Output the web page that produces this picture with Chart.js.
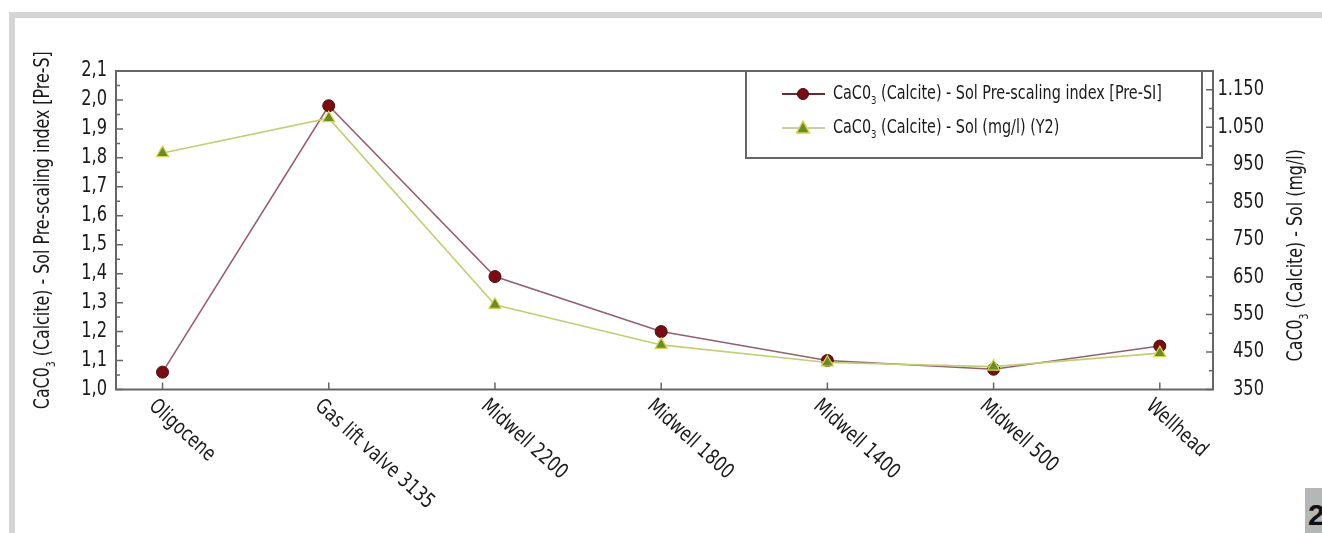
<!DOCTYPE html>
<html>
<head>
<meta charset="utf-8">
<title>CaCO3 (Calcite) - Sol</title>
<script src="https://cdn.jsdelivr.net/npm/chart.js@4.4.1/dist/chart.umd.min.js"></script>
<style>
  html, body { margin: 0; padding: 0; background: #fff; overflow: hidden; }
  #wrap { position: relative; width: 1322px; height: 533px; }
  #bandTop { position: absolute; left: 9px; top: 12px; width: 1313px; height: 6px; background: #d5d5d5; }
  #bandLeft { position: absolute; left: 9px; top: 12px; width: 6px; height: 521px; background: #d5d5d5; }
  #pageNo { position: absolute; left: 1305px; top: 488px; width: 30px; height: 45px; background: #b3b8b7;
            font: bold 30px "Liberation Sans", Arial, sans-serif; color: #111; padding-left: 3px; line-height: 54px; }
  #chart { position: absolute; left: 0; top: 0; }
</style>
</head>
<body>
<div id="wrap">
  <div id="bandTop"></div>
  <div id="bandLeft"></div>
  <div id="pageNo">2</div>
  <canvas id="chart" width="1322" height="533"></canvas>
</div>
<script>
// Chart data
const categories = ['Oligocene', 'Gas lift valve 3135', 'Midwell 2200', 'Midwell 1800', 'Midwell 1400', 'Midwell 500', 'Wellhead'];
const preScalingIndex = [1.06, 1.98, 1.39, 1.20, 1.10, 1.07, 1.15];
const solubilityMgL = [981, 1074, 576, 469, 422, 411, 447];
const leftTicks = [1.0, 1.1, 1.2, 1.3, 1.4, 1.5, 1.6, 1.7, 1.8, 1.9, 2.0, 2.1];
const rightTicks = [350, 450, 550, 650, 750, 850, 950, 1050, 1150];

const legendLabels = [
  [{ t: 'CaC0' }, { t: '3', sub: true }, { t: ' (Calcite) - Sol Pre-scaling index [Pre-SI]' }],
  [{ t: 'CaC0' }, { t: '3', sub: true }, { t: ' (Calcite) - Sol (mg/l) (Y2)' }],
];
const leftTitle = [{ t: 'CaC0' }, { t: '3', sub: true }, { t: ' (Calcite) - Sol Pre-scaling index [Pre-S]' }];
const rightTitle = [{ t: 'CaC0' }, { t: '3', sub: true }, { t: ' (Calcite) - Sol (mg/l)' }];

const FAMILY = '"Liberation Sans Narrow", "DejaVu Sans Condensed", "Liberation Sans", sans-serif';
const SQUEEZE = 0.86;
const TEXT = '#1a1a1a';
const FRAME = '#666';

const red = { line: '#94606f', fill: '#7a0c12', edge: '#4f0a0a' };
const green = { line: '#c3cf6e', fill: '#6e8a25', edge: '#d6d64a' };

const fmtLeft = v => v.toFixed(1).replace('.', ',');
const fmtRight = v => v >= 1000 ? Math.floor(v / 1000) + '.' + String(v % 1000).padStart(3, '0') : String(v);

// draw text with a subscript part, squeezed horizontally
function drawRich(ctx, parts, x, y, size, align) {
  ctx.save();
  ctx.translate(x, y);
  ctx.scale(SQUEEZE, 1);
  const big = size + 'px ' + FAMILY;
  const small = Math.round(size * 0.6) + 'px ' + FAMILY;
  let total = 0;
  parts.forEach(p => { ctx.font = p.sub ? small : big; total += ctx.measureText(p.t).width; });
  let cx = align === 'center' ? -total / 2 : align === 'right' ? -total : 0;
  ctx.textAlign = 'left';
  ctx.textBaseline = 'middle';
  ctx.fillStyle = TEXT;
  parts.forEach(p => {
    ctx.font = p.sub ? small : big;
    ctx.fillText(p.t, cx, p.sub ? size * 0.38 : 0);
    cx += ctx.measureText(p.t).width;
  });
  ctx.restore();
}

function marker(ctx, style, x, y) {
  ctx.save();
  if (style === 'circle') {
    ctx.beginPath();
    ctx.arc(x, y, 5.5, 0, Math.PI * 2);
    ctx.fillStyle = red.fill;
    ctx.strokeStyle = red.edge;
    ctx.lineWidth = 1;
    ctx.fill();
    ctx.stroke();
  } else {
    ctx.beginPath();
    ctx.moveTo(x, y - 7);
    ctx.lineTo(x + 6.5, y + 5);
    ctx.lineTo(x - 6.5, y + 5);
    ctx.closePath();
    ctx.fillStyle = green.fill;
    ctx.strokeStyle = green.edge;
    ctx.lineWidth = 1.5;
    ctx.fill();
    ctx.stroke();
  }
  ctx.restore();
}

// frame, inner ticks, tick labels, titles, rotated labels and legend
const decor = {
  id: 'decor',
  beforeDatasetsDraw(chart) {
    const ctx = chart.ctx;
    const a = chart.chartArea;
    const sx = chart.scales.x, sy = chart.scales.y, sy2 = chart.scales.y2;
    ctx.save();
    ctx.strokeStyle = FRAME;
    ctx.lineWidth = 1.5;
    ctx.beginPath();
    // left axis ticks (major + minor)
    leftTicks.forEach((v, i) => {
      const y = sy.getPixelForValue(v);
      ctx.moveTo(a.left, y); ctx.lineTo(a.left + 7, y);
      if (i < leftTicks.length - 1) {
        const ym = sy.getPixelForValue((v + leftTicks[i + 1]) / 2);
        ctx.moveTo(a.left, ym); ctx.lineTo(a.left + 4, ym);
      }
    });
    // right axis ticks
    rightTicks.forEach((v, i) => {
      const y = sy2.getPixelForValue(v);
      ctx.moveTo(a.right, y); ctx.lineTo(a.right - 7, y);
      const next = i < rightTicks.length - 1 ? rightTicks[i + 1] : v + 100;
      const ym = sy2.getPixelForValue((v + next) / 2);
      if (ym > a.top + 2) { ctx.moveTo(a.right, ym); ctx.lineTo(a.right - 4, ym); }
    });
    // category ticks
    categories.forEach((c, i) => {
      const x = sx.getPixelForValue(i);
      ctx.moveTo(x, a.bottom); ctx.lineTo(x, a.bottom - 7);
    });
    ctx.stroke();
    ctx.lineWidth = 2;
    ctx.strokeRect(a.left, a.top, a.right - a.left, a.bottom - a.top);
    ctx.restore();

    // tick labels
    leftTicks.forEach(v => drawRich(ctx, [{ t: fmtLeft(v) }], a.left - 9, sy.getPixelForValue(v), 21, 'right'));
    rightTicks.forEach(v => drawRich(ctx, [{ t: fmtRight(v) }], a.right + 51, sy2.getPixelForValue(v), 21, 'right'));

    // rotated category labels
    categories.forEach((c, i) => {
      const x = sx.getPixelForValue(i);
      ctx.save();
      ctx.translate(x - 11, a.bottom + 14);
      ctx.rotate(42 * Math.PI / 180);
      drawRich(ctx, [{ t: c }], 0, 0, 21, 'left');
      ctx.restore();
    });

    // axis titles
    ctx.save();
    ctx.translate(44, (a.top + a.bottom) / 2);
    ctx.rotate(-Math.PI / 2);
    drawRich(ctx, leftTitle, 0, 0, 20.5, 'center');
    ctx.restore();
    ctx.save();
    ctx.translate(1297, (a.top + a.bottom) / 2 + 25);
    ctx.rotate(-Math.PI / 2);
    drawRich(ctx, rightTitle, 0, 0, 20.5, 'center');
    ctx.restore();
  },
  afterDraw(chart) {
    const ctx = chart.ctx;
    const a = chart.chartArea;
    const w = 456, h = 87;
    const lx = a.right - 11 - w, ly = a.top;
    ctx.save();
    ctx.fillStyle = '#fff';
    ctx.fillRect(lx, ly, w, h);
    ctx.strokeStyle = FRAME;
    ctx.lineWidth = 2;
    ctx.strokeRect(lx, ly, w, h);
    const rows = [
      { y: ly + 23, line: '#6b2a33', style: 'circle' },
      { y: ly + 57, line: '#c8d0a0', style: 'triangle' },
    ];
    rows.forEach((r, i) => {
      ctx.strokeStyle = r.line;
      ctx.lineWidth = 2;
      ctx.beginPath();
      ctx.moveTo(lx + 36, r.y); ctx.lineTo(lx + 79, r.y);
      ctx.stroke();
      marker(ctx, r.style, lx + 57, r.y);
      drawRich(ctx, legendLabels[i], lx + 87, r.y, 18.6, 'left');
    });
    ctx.restore();
  }
};

const pointsOf = values => values.map((v, i) => ({ x: i, y: v }));

new Chart(document.getElementById('chart').getContext('2d'), {
  type: 'line',
  data: {
    datasets: [
      {
        label: 'CaC03 (Calcite) - Sol (mg/l) (Y2)',
        data: pointsOf(solubilityMgL),
        yAxisID: 'y2',
        order: 0,
        borderColor: green.line,
        borderWidth: 1.6,
        pointStyle: 'triangle',
        pointRadius: 7,
        pointBackgroundColor: green.fill,
        pointBorderColor: green.edge,
        pointBorderWidth: 1.2,
        tension: 0,
      },
      {
        label: 'CaC03 (Calcite) - Sol Pre-scaling index [Pre-SI]',
        data: pointsOf(preScalingIndex),
        yAxisID: 'y',
        order: 1,
        borderColor: red.line,
        borderWidth: 1.6,
        pointStyle: 'circle',
        pointRadius: 6,
        pointBackgroundColor: red.fill,
        pointBorderColor: red.edge,
        pointBorderWidth: 1,
        tension: 0,
      },
    ],
  },
  options: {
    responsive: false,
    animation: false,
    layout: { padding: { top: 71, right: 58, left: 0, bottom: 0 } },
    plugins: { legend: { display: false }, tooltip: { enabled: false } },
    scales: {
      x: {
        type: 'linear',
        min: -0.28,
        max: 6.32,
        afterBuildTicks: s => { s.ticks = categories.map((c, i) => ({ value: i })); },
        afterFit: s => { s.height = 533 - 389.5; },
        ticks: { display: false },
        grid: { display: false, drawTicks: false },
        border: { display: false },
      },
      y: {
        position: 'left',
        min: 1.0,
        max: 2.1,
        afterBuildTicks: s => { s.ticks = leftTicks.map(v => ({ value: v })); },
        afterFit: s => { s.width = 116; },
        ticks: { display: false },
        grid: { display: false, drawTicks: false },
        border: { display: false },
      },
      y2: {
        position: 'right',
        min: 350,
        max: 1200,
        afterBuildTicks: s => { s.ticks = rightTicks.map(v => ({ value: v })); },
        afterFit: s => { s.width = 51; },
        ticks: { display: false },
        grid: { display: false, drawTicks: false },
        border: { display: false },
      },
    },
  },
  plugins: [decor],
});
</script>
</body>
</html>
